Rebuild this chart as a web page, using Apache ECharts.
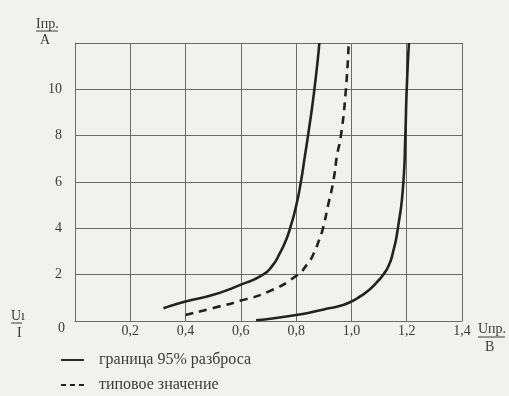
<!DOCTYPE html>
<html>
<head>
<meta charset="utf-8">
<script src="https://cdn.jsdelivr.net/npm/echarts@6/dist/echarts.min.js"></script>
<style>
  html, body { margin: 0; padding: 0; background: #f1f1ef; }
  #chart { width: 509px; height: 396px; }
</style>
</head>
<body>
<div id="chart"></div>
<script>
// граница 95% разброса, левая кривая
const leftU = [0.32, 0.4, 0.5, 0.6, 0.68, 0.715, 0.742, 0.762, 0.778, 0.8, 0.817, 0.832, 0.843, 0.866, 0.884]
const leftI = [0.55, 0.84, 1.13, 1.57, 2.0, 2.4, 2.95, 3.45, 4.0, 4.97, 6.0, 7.15, 8.0, 10.0, 12.0]
// граница 95% разброса, правая кривая
const rightU = [0.655, 0.8, 0.9, 0.96, 1.0, 1.03, 1.067, 1.09, 1.115, 1.135, 1.15, 1.168, 1.188, 1.195, 1.2, 1.208]
const rightI = [0.03, 0.26, 0.5, 0.66, 0.84, 1.05, 1.37, 1.65, 2.0, 2.4, 2.95, 4.0, 6.0, 8.0, 10.0, 12.0]
// типовое значение
const typU = [0.4, 0.5, 0.6, 0.7, 0.8, 0.843, 0.865, 0.88, 0.897, 0.915, 0.934, 0.948, 0.962, 0.98, 0.99]
const typI = [0.26, 0.56, 0.88, 1.27, 1.95, 2.5, 2.95, 3.4, 4.0, 4.97, 6.0, 7.15, 8.0, 10.0, 12.0]

const legendNames = ['граница 95% разброса', 'типовое значение']
const legendIcons = ['path://M0,0h24v2h-24z', 'path://M0,0h5v2h-5z M9,0h5v2h-5z M18,0h5v2h-5z']

function zip(xs, ys) {
  return xs.map((x, i) => [x, ys[i]])
}

let chart = echarts.init(document.getElementById('chart'))
let font = 'Liberation Serif'
let txt = '#3a3a3a'
let gridCol = '#6a6a6a'

function legendAt(i, top) {
  return {
    left: 56,
    top: top,
    itemWidth: 23,
    itemHeight: 2,
    data: [{name: legendNames[i], icon: legendIcons[i]}],
    textStyle: {fontFamily: font, fontSize: 16, color: txt, padding: [0, 0, 0, 10]}
  }
}

chart.setOption({
  backgroundColor: '#f1f1ef',
  animation: false,
  grid: {left: 75, right: 47, top: 43, bottom: 75},
  legend: [legendAt(0, 347), legendAt(1, 372)],
  xAxis: {
    type: 'value',
    min: 0, max: 1.4, interval: 0.2,
    axisLine: {show: true, lineStyle: {color: gridCol, width: 1}},
    axisTick: {show: false},
    splitLine: {show: true, lineStyle: {color: gridCol, width: 1}},
    axisLabel: {
      margin: 3,
      fontFamily: font, fontSize: 14, color: txt,
      formatter: v => (v === 0 ? '' : v.toFixed(1).replace('.', ','))
    }
  },
  yAxis: {
    type: 'value',
    min: 0, max: 12, interval: 2,
    axisLine: {show: true, lineStyle: {color: gridCol, width: 1}},
    axisTick: {show: false},
    splitLine: {show: true, lineStyle: {color: gridCol, width: 1}},
    axisLabel: {
      margin: 13,
      fontFamily: font, fontSize: 14, color: txt,
      formatter: v => (v === 0 || v === 12 ? '' : String(v))
    }
  },
  series: [
    {
      name: legendNames[0], type: 'line', data: zip(leftU, leftI),
      smooth: 0.6, symbol: 'none',
      lineStyle: {color: '#222', width: 2.6}, itemStyle: {color: '#222'}
    },
    {
      name: legendNames[0], type: 'line', data: zip(rightU, rightI),
      smooth: 0.6, symbol: 'none',
      lineStyle: {color: '#222', width: 2.6}, itemStyle: {color: '#222'}
    },
    {
      name: legendNames[1], type: 'line', data: zip(typU, typI),
      smooth: 0.6, symbol: 'none',
      lineStyle: {color: '#222', width: 2.6, type: [8, 6]}, itemStyle: {color: '#222'}
    }
  ],
  graphic: [
    {type: 'text', left: 36, top: 17, style: {text: 'Iпр.', font: '14px Liberation Serif', fill: txt}},
    {type: 'line', shape: {x1: 36, y1: 31, x2: 58, y2: 31}, style: {stroke: txt, lineWidth: 1}},
    {type: 'text', left: 40, top: 33, style: {text: 'A', font: '14px Liberation Serif', fill: txt}},
    {type: 'text', left: 478, top: 322, style: {text: 'Uпр.', font: '14px Liberation Serif', fill: txt}},
    {type: 'line', shape: {x1: 478, y1: 337, x2: 505, y2: 337}, style: {stroke: txt, lineWidth: 1}},
    {type: 'text', left: 485, top: 340, style: {text: 'B', font: '14px Liberation Serif', fill: txt}},
    {type: 'text', left: 58, top: 321, style: {text: '0', font: '14px Liberation Serif', fill: txt}},
    {type: 'text', left: 11, top: 309, style: {text: 'Uı', font: '14px Liberation Serif', fill: txt}},
    {type: 'line', shape: {x1: 11, y1: 323, x2: 22, y2: 323}, style: {stroke: txt, lineWidth: 1}},
    {type: 'text', left: 17, top: 326, style: {text: 'I', font: '14px Liberation Serif', fill: txt}}
  ]
})
</script>
</body>
</html>
